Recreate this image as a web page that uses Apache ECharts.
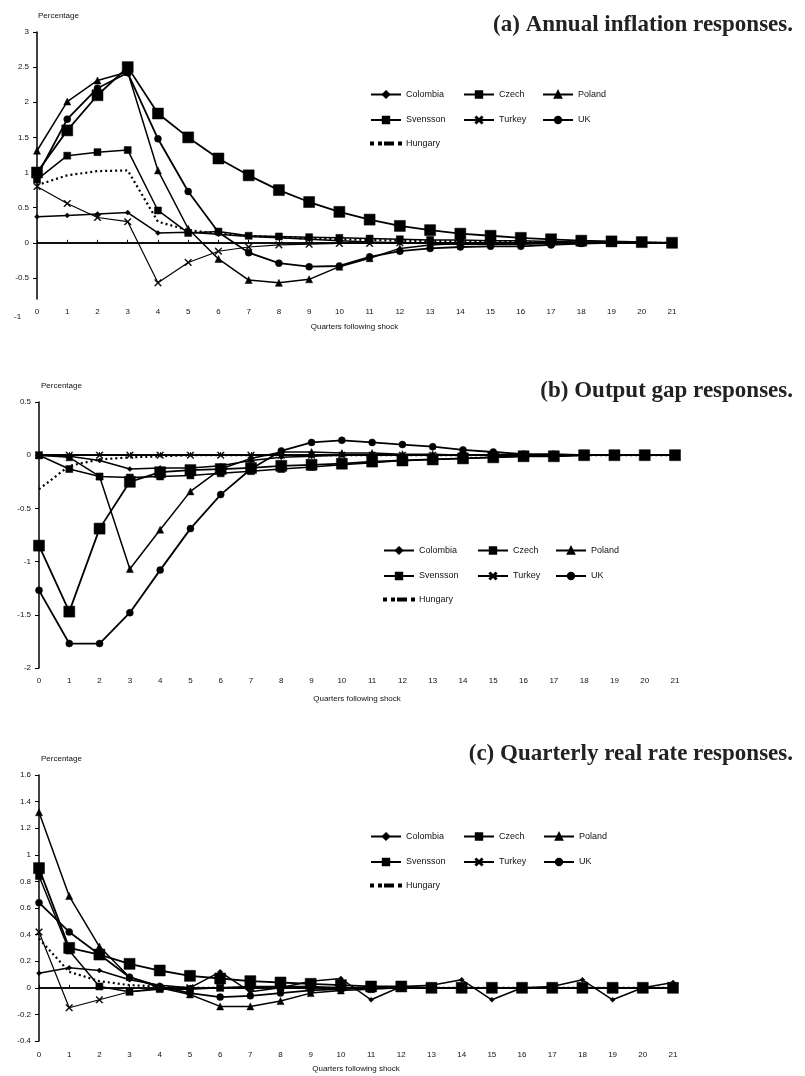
<!DOCTYPE html>
<html>
<head>
<meta charset="utf-8">
<script src="https://cdn.jsdelivr.net/npm/echarts@6/dist/echarts.min.js"></script>
<style>
  html, body { margin: 0; padding: 0; background: #fff; }
  #chart { width: 805px; height: 1076px; }
</style>
</head>
<body>
<div id="chart"></div>
<script>
// quarters following the shock
const quarters = ['0','1','2','3','4','5','6','7','8','9','10','11','12','13','14','15','16','17','18','19','20','21'];
const countries = ['Colombia', 'Czech', 'Poland', 'Svensson', 'Turkey', 'UK', 'Hungary'];

// (a) annual inflation responses
const colombiaA = [0.37,0.39,0.41,0.43,0.14,0.15,0.12,0.09,0.07,0.05,0.03,0.01,0.0,-0.01,-0.02,-0.02,-0.02,-0.01,-0.01,0.0,0.0,0.0];
const czechA    = [0.9,1.24,1.29,1.32,0.46,0.14,0.16,0.1,0.09,0.08,0.07,0.06,0.05,0.04,0.04,0.03,0.03,0.02,0.01,0.01,0.0,0.0];
const polandA   = [1.31,2.01,2.31,2.43,1.03,0.2,-0.23,-0.53,-0.57,-0.52,-0.34,-0.22,-0.08,-0.03,-0.01,0.0,0.0,0.0,0.0,0.0,0.0,0.0];
const svenssonA = [1.0,1.6,2.1,2.5,1.84,1.5,1.2,0.96,0.75,0.58,0.44,0.33,0.24,0.18,0.13,0.1,0.07,0.05,0.03,0.02,0.01,0.0];
const turkeyA   = [0.8,0.56,0.36,0.3,-0.57,-0.28,-0.12,-0.06,-0.03,-0.02,-0.01,-0.01,0.0,0.0,0.0,0.0,0.0,0.0,0.0,0.0,0.0,0.0];
const ukA       = [0.95,1.76,2.2,2.42,1.48,0.73,0.15,-0.14,-0.29,-0.34,-0.33,-0.2,-0.12,-0.08,-0.06,-0.05,-0.05,-0.03,-0.01,0.0,0.0,0.0];
const hungaryA  = [0.82,0.96,1.02,1.03,0.3,0.18,0.13,0.1,0.08,0.06,0.05,0.04,0.03,0.02,0.02,0.01,0.01,0.01,0.0,0.0,0.0,0.0];

// (b) output gap responses
const colombiaB = [0,-0.01,-0.05,-0.13,-0.12,-0.12,-0.1,-0.05,-0.02,-0.01,0,0,0,0,0,0,0,0,0,0,0,0];
const czechB    = [0,-0.13,-0.2,-0.21,-0.2,-0.19,-0.17,-0.15,-0.13,-0.11,-0.09,-0.07,-0.05,-0.04,-0.03,-0.02,-0.01,-0.01,0,0,0,0];
const polandB   = [0,-0.02,-0.2,-1.07,-0.7,-0.34,-0.13,-0.03,0.03,0.03,0.02,0.02,0.01,0.01,0,0,0,0,0,0,0,0];
const svenssonB = [-0.85,-1.47,-0.69,-0.25,-0.16,-0.14,-0.13,-0.12,-0.1,-0.09,-0.08,-0.06,-0.05,-0.04,-0.03,-0.02,-0.01,-0.01,0,0,0,0];
const turkeyB   = [0,0,0,0,0,0,0,0,0,0,0,0,0,0,0,0,0,0,0,0,0,0];
const ukB       = [-1.27,-1.77,-1.77,-1.48,-1.08,-0.69,-0.37,-0.13,0.04,0.12,0.14,0.12,0.1,0.08,0.05,0.03,0.01,0.01,0,0,0,0];
const hungaryB  = [-0.32,-0.1,-0.04,-0.02,-0.01,0,0,0,0,0,0,0,0,0,0,0,0,0,0,0,0,0];

// (c) quarterly real rate responses
const colombiaC = [0.11,0.15,0.13,0.06,0.02,0.0,0.12,-0.03,0.0,0.05,0.07,-0.09,0.01,0.02,0.06,-0.09,0.0,0.01,0.06,-0.09,0.0,0.04];
const czechC    = [0.84,0.28,0.01,-0.03,-0.01,-0.01,0.0,0.01,0.01,0.01,0.0,0.0,0,0,0,0,0,0,0,0,0,0];
const polandC   = [1.32,0.69,0.31,0.08,0.0,-0.05,-0.14,-0.14,-0.1,-0.04,-0.02,-0.01,0,0,0,0,0,0,0,0,0,0];
const svenssonC = [0.9,0.3,0.25,0.18,0.13,0.09,0.07,0.05,0.04,0.03,0.02,0.01,0.01,0,0,0,0,0,0,0,0,0];
const turkeyC   = [0.42,-0.15,-0.09,-0.03,0.0,0.0,0,0,0,0,0,0,0,0,0,0,0,0,0,0,0,0];
const ukC       = [0.64,0.42,0.25,0.08,0.01,-0.04,-0.07,-0.06,-0.04,-0.02,-0.01,0,0,0,0,0,0,0,0,0,0,0];
const hungaryC  = [0.37,0.12,0.05,0.02,0.01,0,0,0,0,0,0,0,0,0,0,0,0,0,0,0,0,0];

const panelData = [
  [colombiaA, czechA, polandA, svenssonA, turkeyA, ukA, hungaryA],
  [colombiaB, czechB, polandB, svenssonB, turkeyB, ukB, hungaryB],
  [colombiaC, czechC, polandC, svenssonC, turkeyC, ukC, hungaryC]
];

const crossPath = 'path://M0,1L1,0L5,4L9,0L10,1L6,5L10,9L9,10L5,6L1,10L0,9L4,5Z';
const dottedIcon = 'path://M0,0h2v2h-2zM8,0h2v2h-2zM14,0h8v2h-8zM28,0h2v2h-2z';
const looks = {
  Colombia: { symbol: 'diamond', size: 5, width: 1.5 },
  Czech:    { symbol: 'rect', size: 7, width: 1.5 },
  Poland:   { symbol: 'triangle', size: 7, width: 1.5 },
  Svensson: { symbol: 'rect', size: 11, width: 1.8 },
  Turkey:   { symbol: crossPath, size: 7, width: 1.2 },
  UK:       { symbol: 'circle', size: 7, width: 1.8 },
  Hungary:  { symbol: 'none', size: 0, width: 2.2, dash: [2, 3] }
};

const font = 'Liberation Sans, Arial, sans-serif';
const serif = 'Liberation Serif, Times New Roman, serif';

const grids = [
  { left: 37, right: 133, top: 32, height: 267 },
  { left: 39, right: 130, top: 402, height: 266 },
  { left: 39, right: 132, top: 775, height: 266 }
];
const labelMargins = [9, 9, 10];
const nameGaps = [24, 27, 24];

const xAxes = grids.map((g, i) => ({
  type: 'category', gridIndex: i, data: quarters, boundaryGap: false,
  axisLine: { lineStyle: { color: '#000', width: 1.5 } },
  axisTick: { inside: true, length: 3, interval: 0, lineStyle: { color: '#000' } },
  axisLabel: { interval: 0, fontSize: 8, color: '#111', fontFamily: font, margin: labelMargins[i] },
  name: 'Quarters following shock', nameLocation: 'middle', nameGap: nameGaps[i],
  nameTextStyle: { fontSize: 8, color: '#111', fontFamily: font }
}));

const aTicks = [-0.5, 0, 0.5, 1, 1.5, 2, 2.5, 3];
const yBase = {
  type: 'value',
  axisLine: { show: true, lineStyle: { color: '#000', width: 1.5 } },
  axisTick: { show: true, length: 4, lineStyle: { color: '#000' } },
  splitLine: { show: false },
  axisLabel: { fontSize: 8, color: '#111', fontFamily: font, margin: 8 }
};
const yAxes = [
  Object.assign({}, yBase, { gridIndex: 0, min: -0.8, max: 3,
    axisLabel: Object.assign({}, yBase.axisLabel, { customValues: aTicks }),
    axisTick: Object.assign({}, yBase.axisTick, { customValues: aTicks }) }),
  Object.assign({}, yBase, { gridIndex: 1, min: -2, max: 0.5, interval: 0.5 }),
  Object.assign({}, yBase, { gridIndex: 2, min: -0.4, max: 1.6, interval: 0.2 })
];

const series = [];
panelData.forEach((rows, p) => {
  rows.forEach((vals, k) => {
    const name = countries[k];
    const lk = looks[name];
    const s = {
      name: name, type: 'line', xAxisIndex: p, yAxisIndex: p, data: vals,
      symbol: lk.symbol, symbolSize: lk.size, showSymbol: lk.symbol !== 'none',
      lineStyle: { color: '#000', width: lk.width, type: lk.dash || 'solid' },
      itemStyle: { color: '#000', borderColor: '#000', borderWidth: 0.5 },
      emphasis: { disabled: true }, animation: false
    };
    if (k === 0) {
      s.markLine = {
        silent: true, symbol: 'none', label: { show: false },
        lineStyle: { color: '#000', type: 'solid', width: 1.5 },
        data: [{ yAxis: 0 }]
      };
    }
    series.push(s);
  });
});

// legend laid out as columns; Hungary gets its own so its icon can be a dotted line
const legendCols = [['Colombia', 'Svensson'], ['Czech', 'Turkey'], ['Poland', 'UK']];
const legendText = { fontSize: 9, color: '#111', fontFamily: font, lineHeight: 8 };
function legendsFor(lefts, top) {
  const list = legendCols.map((col, c) => ({
    data: col, orient: 'vertical', left: lefts[c], top: top, padding: 0,
    itemWidth: 30, itemHeight: 8, itemGap: 16.5, selectedMode: false,
    textStyle: legendText
  }));
  list.push({
    data: [{ name: 'Hungary', icon: dottedIcon }], left: lefts[0], top: top + 49, padding: 0,
    itemWidth: 30, itemHeight: 2, selectedMode: false, textStyle: legendText
  });
  return list;
}
const legends = [].concat(
  legendsFor([370, 463, 542], 90),
  legendsFor([383, 477, 555], 546),
  legendsFor([370, 463, 543], 832)
);

const titleStyle = { fontSize: 23, fontWeight: 'bold', color: '#222', fontFamily: serif };
const smallStyle = { fontSize: 8, fontWeight: 'normal', color: '#111', fontFamily: font };
const titles = [
  { text: '(a) Annual inflation responses.', right: 7, top: 9, textStyle: titleStyle },
  { text: '(b) Output gap responses.', right: 7, top: 375, textStyle: titleStyle },
  { text: '(c) Quarterly real rate responses.', right: 7, top: 738, textStyle: titleStyle },
  { text: 'Percentage', left: 33, top: 7, textStyle: smallStyle },
  { text: 'Percentage', left: 36, top: 377, textStyle: smallStyle },
  { text: 'Percentage', left: 36, top: 750, textStyle: smallStyle },
  { text: '-1', left: 9, top: 308, textStyle: smallStyle }
];

const chart = echarts.init(document.getElementById('chart'));
chart.setOption({
  backgroundColor: '#fff',
  animation: false,
  title: titles,
  legend: legends,
  grid: grids,
  xAxis: xAxes,
  yAxis: yAxes,
  series: series
});
</script>
</body>
</html>
